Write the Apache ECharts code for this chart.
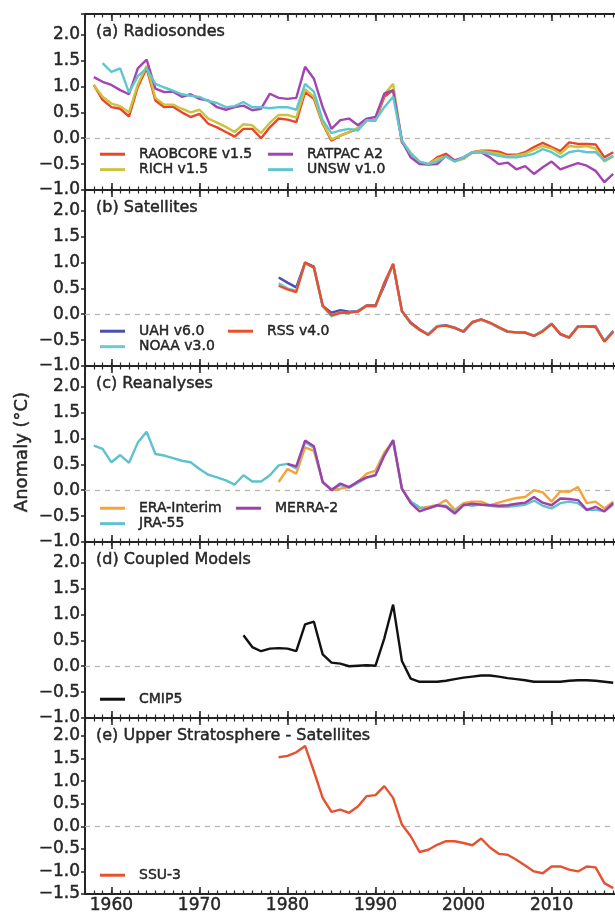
<!DOCTYPE html>
<html>
<head>
<meta charset="utf-8">
<script src="https://cdn.jsdelivr.net/npm/echarts@6/dist/echarts.min.js"></script>
<style>
  html, body { margin: 0; padding: 0; background: #fff; }
  #chart { width: 615px; height: 913px; }
</style>
</head>
<body>
<div id="chart"></div>
<script>
// annual values, 1958-2017
const years = [1958, 1959, 1960, 1961, 1962, 1963, 1964, 1965, 1966, 1967,
  1968, 1969, 1970, 1971, 1972, 1973, 1974, 1975, 1976, 1977,
  1978, 1979, 1980, 1981, 1982, 1983, 1984, 1985, 1986, 1987,
  1988, 1989, 1990, 1991, 1992, 1993, 1994, 1995, 1996, 1997,
  1998, 1999, 2000, 2001, 2002, 2003, 2004, 2005, 2006, 2007,
  2008, 2009, 2010, 2011, 2012, 2013, 2014, 2015, 2016, 2017];

const decadeTicks = [1960, 1970, 1980, 1990, 2000, 2010];

// (a) radiosondes, from 1958 (UNSW from 1959)
const raobcore = [1.03, 0.74, 0.6, 0.57, 0.42, 0.99, 1.35, 0.73, 0.6, 0.61,
  0.5, 0.41, 0.47, 0.28, 0.21, 0.12, 0.03, 0.18, 0.18, 0.0,
  0.21, 0.38, 0.36, 0.31, 0.89, 0.76, 0.28, -0.05, 0.05, 0.12,
  0.18, 0.34, 0.34, 0.8, 0.93, -0.08, -0.3, -0.47, -0.5, -0.37,
  -0.3, -0.43, -0.39, -0.27, -0.24, -0.24, -0.26, -0.32, -0.32, -0.27,
  -0.17, -0.09, -0.17, -0.25, -0.08, -0.11, -0.11, -0.12, -0.37, -0.27];
const rich = [1.03, 0.8, 0.67, 0.62, 0.5, 1.04, 1.4, 0.78, 0.65, 0.65,
  0.57, 0.5, 0.55, 0.38, 0.3, 0.22, 0.12, 0.27, 0.25, 0.1,
  0.3, 0.45, 0.45, 0.4, 0.95, 0.8, 0.3, -0.02, 0.05, 0.12,
  0.2, 0.33, 0.35, 0.85, 1.05, -0.05, -0.28, -0.45, -0.5, -0.4,
  -0.35, -0.45, -0.4, -0.27, -0.25, -0.27, -0.3, -0.35, -0.33, -0.3,
  -0.22, -0.15, -0.2, -0.3, -0.15, -0.17, -0.15, -0.2, -0.45, -0.35];
const ratpac = [1.18, 1.09, 1.03, 0.93, 0.85, 1.35, 1.52, 0.96, 0.89, 0.9,
  0.8, 0.85, 0.76, 0.73, 0.6, 0.55, 0.6, 0.63, 0.54, 0.57,
  0.86, 0.78, 0.76, 0.78, 1.38, 1.15, 0.6, 0.18, 0.35, 0.38,
  0.25, 0.38, 0.41, 0.86, 0.93, -0.05, -0.37, -0.5, -0.51, -0.5,
  -0.34, -0.43, -0.37, -0.27, -0.27, -0.37, -0.5, -0.47, -0.6, -0.54,
  -0.69, -0.56, -0.45, -0.6, -0.54, -0.48, -0.53, -0.63, -0.85, -0.69];
const unsw = [null, 1.45, 1.28, 1.35, 0.88, 1.2, 1.35, 1.05, 0.98, 0.92,
  0.85, 0.82, 0.8, 0.72, 0.68, 0.6, 0.62, 0.7, 0.6, 0.6,
  0.58, 0.6, 0.6, 0.55, 1.05, 0.9, 0.35, 0.1, 0.15, 0.18,
  0.15, 0.35, 0.35, 0.6, 0.8, -0.05, -0.3, -0.45, -0.5, -0.45,
  -0.35, -0.45, -0.37, -0.27, -0.27, -0.3, -0.34, -0.37, -0.37, -0.34,
  -0.3, -0.21, -0.27, -0.37, -0.27, -0.24, -0.27, -0.27, -0.43, -0.34];

// (b) satellites, from 1979
const uah = [0.71, 0.61, 0.52, 1.0, 0.92, 0.16, 0.03, 0.08, 0.05, 0.06,
  0.17, 0.17, 0.55, 0.97, 0.06, -0.16, -0.29, -0.39, -0.23, -0.21,
  -0.26, -0.34, -0.16, -0.1, -0.17, -0.26, -0.34, -0.35, -0.35, -0.42,
  -0.32, -0.18, -0.39, -0.45, -0.23, -0.23, -0.23, -0.52, -0.32];
const noaa = [0.6, 0.5, 0.45, 0.98, 0.9, 0.15, -0.04, 0.02, 0.03, 0.05,
  0.16, 0.15, 0.6, 0.95, 0.05, -0.18, -0.31, -0.39, -0.23, -0.22,
  -0.27, -0.33, -0.15, -0.11, -0.17, -0.26, -0.33, -0.35, -0.36, -0.41,
  -0.32, -0.19, -0.38, -0.44, -0.23, -0.24, -0.24, -0.51, -0.33];
const rss = [0.55, 0.48, 0.43, 1.0, 0.9, 0.17, -0.02, 0.03, 0.03, 0.05,
  0.17, 0.16, 0.61, 0.97, 0.06, -0.17, -0.3, -0.4, -0.24, -0.22,
  -0.27, -0.33, -0.15, -0.1, -0.16, -0.25, -0.33, -0.35, -0.36, -0.42,
  -0.33, -0.19, -0.38, -0.45, -0.24, -0.24, -0.25, -0.53, -0.34];

// (c) reanalyses: ERA-Interim from 1979, JRA-55 from 1958, MERRA-2 from 1980
const eraInterim = [0.16, 0.41, 0.32, 0.83, 0.76, 0.16, 0.0, 0.03, 0.06, 0.16,
  0.32, 0.38, 0.73, 0.95, 0.03, -0.22, -0.35, -0.32, -0.29, -0.19,
  -0.38, -0.25, -0.22, -0.22, -0.29, -0.24, -0.19, -0.15, -0.13, 0.0,
  -0.04, -0.22, -0.02, -0.03, 0.06, -0.25, -0.22, -0.35, -0.22];
const jra55 = [0.86, 0.8, 0.54, 0.68, 0.53, 0.92, 1.13, 0.7, 0.67, 0.62,
  0.57, 0.54, 0.41, 0.3, 0.25, 0.19, 0.11, 0.29, 0.17, 0.17,
  0.29, 0.48, 0.51, 0.42, 0.93, 0.82, 0.15, 0.02, 0.1, 0.05,
  0.14, 0.24, 0.3, 0.68, 0.95, 0.02, -0.22, -0.33, -0.35, -0.3,
  -0.3, -0.42, -0.27, -0.3, -0.27, -0.3, -0.32, -0.32, -0.3, -0.28,
  -0.2, -0.3, -0.35, -0.25, -0.22, -0.25, -0.38, -0.38, -0.4, -0.28];
const merra2 = [0.51, 0.46, 0.96, 0.85, 0.16, 0.0, 0.13, 0.06, 0.17, 0.25,
  0.29, 0.67, 0.97, 0.03, -0.25, -0.41, -0.35, -0.29, -0.32, -0.45,
  -0.29, -0.26, -0.28, -0.29, -0.3, -0.29, -0.26, -0.24, -0.13, -0.24,
  -0.29, -0.16, -0.17, -0.19, -0.38, -0.32, -0.41, -0.25];

// (d) coupled models, from 1975
const cmip5 = [0.6, 0.37, 0.29, 0.34, 0.35, 0.34, 0.29, 0.81, 0.86, 0.23,
  0.07, 0.05, 0.0, 0.01, 0.02, 0.01, 0.54, 1.19, 0.1, -0.24,
  -0.3, -0.3, -0.3, -0.28, -0.25, -0.22, -0.2, -0.18, -0.18, -0.2,
  -0.23, -0.25, -0.27, -0.3, -0.3, -0.3, -0.3, -0.28, -0.27, -0.27,
  -0.28, -0.3, -0.32];

// (e) upper stratosphere, from 1979
const ssu3 = [1.53, 1.56, 1.64, 1.78, 1.22, 0.63, 0.32, 0.37, 0.3, 0.44,
  0.67, 0.69, 0.89, 0.63, 0.04, -0.22, -0.57, -0.52, -0.41, -0.33,
  -0.33, -0.37, -0.42, -0.27, -0.47, -0.61, -0.63, -0.74, -0.87, -1.0,
  -1.04, -0.89, -0.89, -0.96, -1.0, -0.89, -0.91, -1.26, -1.37];

const FONT = 'DejaVu Sans';
const INK = '#262626';
// a hair of stroke to mimic the heavy, slightly blurred type of the original
const heavy = { textBorderColor: INK, textBorderWidth: 0.45 };

function pairs(startYear, values) {
  const ys = years.slice(years.indexOf(startYear));
  return values.map((v, i) => [ys[i], v]);
}

function tickText(v) {
  return (v < 0 ? '\u2212' : '') + Math.abs(v).toFixed(1);
}

const panels = [
  { title: '(a) Radiosondes', ymin: -1, series: [
    { name: 'RAOBCORE v1.5', color: '#e8462b', start: 1958, data: raobcore },
    { name: 'RICH v1.5', color: '#cdc23c', start: 1958, data: rich },
    { name: 'RATPAC A2', color: '#a444b3', start: 1958, data: ratpac },
    { name: 'UNSW v1.0', color: '#5ec6d0', start: 1958, data: unsw }
  ], legendCols: [[0, 1], [2, 3]], legendLeft: [100, 268], legendTop: 147 },
  { title: '(b) Satellites', ymin: -1, series: [
    { name: 'UAH v6.0', color: '#4a4fae', start: 1979, data: uah },
    { name: 'NOAA v3.0', color: '#6ccad3', start: 1979, data: noaa },
    { name: 'RSS v4.0', color: '#e8502c', start: 1979, data: rss }
  ], legendCols: [[0, 1], [2]], legendLeft: [100, 228], legendTop: 324 },
  { title: '(c) Reanalyses', ymin: -1, series: [
    { name: 'ERA-Interim', color: '#f4a43a', start: 1979, data: eraInterim },
    { name: 'JRA-55', color: '#5ec2cc', start: 1958, data: jra55 },
    { name: 'MERRA-2', color: '#9e3fab', start: 1980, data: merra2 }
  ], legendCols: [[0, 1], [2]], legendLeft: [100, 236], legendTop: 501 },
  { title: '(d) Coupled Models', ymin: -1, series: [
    { name: 'CMIP5', color: '#111111', start: 1975, data: cmip5 }
  ], legendCols: [[0]], legendLeft: [100], legendTop: 692 },
  { title: '(e) Upper Stratosphere - Satellites', ymin: -1.5, series: [
    { name: 'SSU-3', color: '#e6522f', start: 1979, data: ssu3 }
  ], legendCols: [[0]], legendLeft: [100], legendTop: 868 }
];

const GRID_LEFT = 85, GRID_W = 537, GRID_TOP = 14, GRID_H = 176;
const allYears = [];
for (let y = 1957; y <= 2018; y++) allYears.push(y);

const grid = [], xAxis = [], yAxis = [], series = [], legend = [], graphic = [];

panels.forEach((p, i) => {
  const top = GRID_TOP + i * GRID_H;
  grid.push({ left: GRID_LEFT, top: top, width: GRID_W, height: GRID_H, outerBoundsMode: 'none' });

  const last = i === panels.length - 1;
  [['bottom', decadeTicks, 7, true], ['bottom', allYears, 3.5, false],
   ['top', decadeTicks, 7, true], ['top', allYears, 3.5, false]].forEach(([pos, ticks, len, major]) => {
    xAxis.push({
      type: 'value', gridIndex: i, position: pos, min: 1957, max: 2018,
      axisLine: { show: major, onZero: false, lineStyle: { color: INK, width: 2 } },
      axisTick: { show: true, inside: true, length: len, customValues: ticks,
        lineStyle: { color: INK, width: major ? 1.6 : 1.2 } },
      axisLabel: Object.assign({ show: last && pos === 'bottom' && major, customValues: decadeTicks,
        margin: 3, fontFamily: FONT, fontSize: 17, color: INK,
        formatter: (v) => String(v) }, heavy),
      splitLine: { show: false }
    });
  });

  yAxis.push({
    type: 'value', gridIndex: i, min: p.ymin, max: 2.4, interval: 0.5,
    axisLine: { show: true, onZero: false, lineStyle: { color: INK, width: 2 } },
    axisTick: { show: true, inside: false, length: 4, lineStyle: { color: INK, width: 1.5 } },
    axisLabel: Object.assign({
      margin: 5, fontFamily: FONT, fontSize: 17, color: INK,
      formatter: (v) => v > 2.05 ? '' : tickText(v)
    }, heavy),
    splitLine: { show: false }
  });

  p.series.forEach((s, k) => {
    series.push({
      type: 'line', name: s.name, xAxisIndex: i * 4, yAxisIndex: i,
      data: pairs(s.start, s.data).filter((d) => d[1] !== null),
      showSymbol: false, symbol: 'none', silent: true,
      lineStyle: { color: s.color, width: 2.4 },
      itemStyle: { color: s.color },
      z: 3,
      markLine: k === 0 ? {
        silent: true, symbol: 'none', label: { show: false }, z: 1,
        lineStyle: { color: '#bdb4b0', type: [5, 5], width: 1.3 },
        data: [{ yAxis: 0 }]
      } : undefined
    });
  });

  p.legendCols.forEach((col, c) => {
    legend.push({
      orient: 'vertical', left: p.legendLeft[c], top: p.legendTop, padding: 0,
      itemGap: 1, itemWidth: 25, itemHeight: 3, icon: 'rect', selectedMode: false,
      data: col.map((k) => p.series[k].name),
      textStyle: Object.assign({ fontFamily: FONT, fontSize: 14, color: INK, lineHeight: 14,
        padding: [0, 0, 0, 9] }, heavy)
    });
  });

  graphic.push({
    type: 'text', x: 96, y: top + 18, silent: true,
    style: Object.assign({ text: p.title, font: '16px "DejaVu Sans"', fill: INK,
      textVerticalAlign: 'middle', stroke: INK, lineWidth: 0.45 })
  });
});

graphic.push({
  type: 'text', x: 22, y: 452, rotation: Math.PI / 2, silent: true,
  style: { text: 'Anomaly (\u00B0C)', font: '18px "DejaVu Sans"', fill: INK,
    stroke: INK, lineWidth: 0.45, textAlign: 'center', textVerticalAlign: 'middle' }
});

const chart = echarts.init(document.getElementById('chart'), null, { renderer: 'canvas' });
chart.setOption({
  animation: false,
  backgroundColor: '#fff',
  grid, xAxis, yAxis, series, legend, graphic
});
</script>
</body>
</html>
